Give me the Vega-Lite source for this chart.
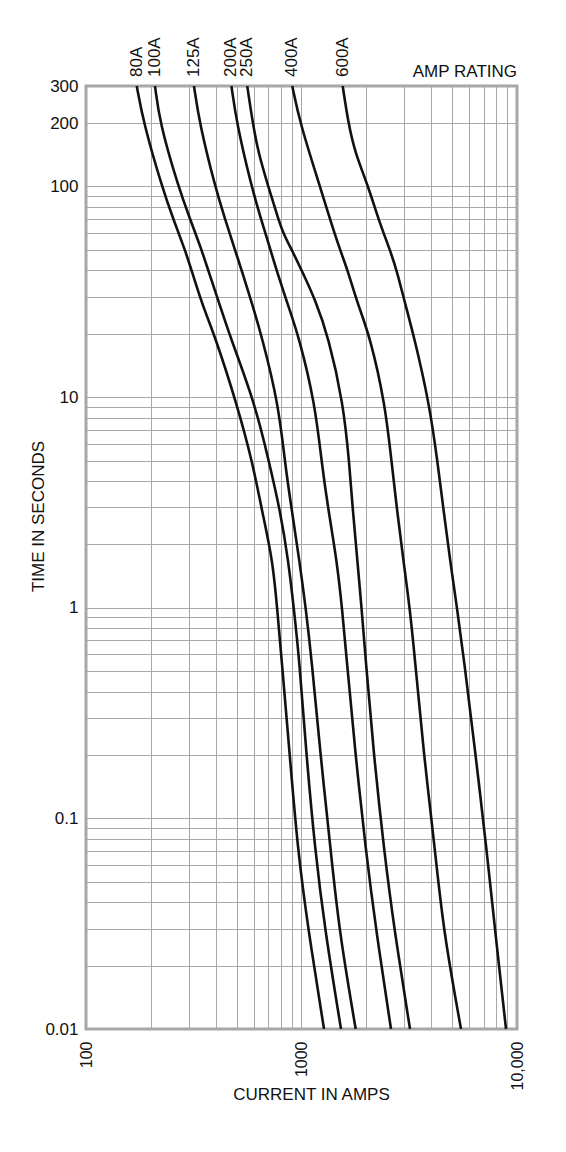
{
  "$schema": "https://vega.github.io/schema/vega-lite/v6.json",
  "width": 431,
  "height": 943,
  "autosize": {"type": "none"},
  "padding": {"left": 86, "top": 86, "right": 49, "bottom": 123},
  "background": "white",
  "config": {
    "font": "Liberation Sans",
    "view": {"stroke": "#a6a6a6", "strokeWidth": 3},
    "axis": {
      "grid": true,
      "gridColor": "#a8a8a8",
      "gridWidth": 1,
      "domain": false,
      "ticks": false,
      "tickSize": 0,
      "labelColor": "#111111",
      "titleColor": "#111111",
      "titleFontWeight": "normal",
      "labelOverlap": false,
      "labelFlush": false,
      "labelBound": false
    }
  },
  "datasets": {
    "curves": [
      {"rating": "80A", "current": 172, "time": 300},
      {"rating": "80A", "current": 185, "time": 200},
      {"rating": "80A", "current": 225, "time": 100},
      {"rating": "80A", "current": 254, "time": 70},
      {"rating": "80A", "current": 288, "time": 50},
      {"rating": "80A", "current": 309, "time": 40},
      {"rating": "80A", "current": 348, "time": 27.1},
      {"rating": "80A", "current": 397, "time": 19.4},
      {"rating": "80A", "current": 500, "time": 9.35},
      {"rating": "80A", "current": 594, "time": 4.86},
      {"rating": "80A", "current": 654, "time": 2.91},
      {"rating": "80A", "current": 735, "time": 1.69},
      {"rating": "80A", "current": 772, "time": 0.976},
      {"rating": "80A", "current": 809, "time": 0.565},
      {"rating": "80A", "current": 878, "time": 0.211},
      {"rating": "80A", "current": 960, "time": 0.0708},
      {"rating": "80A", "current": 1075, "time": 0.0295},
      {"rating": "80A", "current": 1272, "time": 0.01},

      {"rating": "100A", "current": 209, "time": 300},
      {"rating": "100A", "current": 220, "time": 200},
      {"rating": "100A", "current": 268, "time": 100},
      {"rating": "100A", "current": 304, "time": 70},
      {"rating": "100A", "current": 344, "time": 50},
      {"rating": "100A", "current": 369, "time": 40},
      {"rating": "100A", "current": 419, "time": 27.1},
      {"rating": "100A", "current": 466, "time": 19.4},
      {"rating": "100A", "current": 608, "time": 9.35},
      {"rating": "100A", "current": 709, "time": 4.86},
      {"rating": "100A", "current": 795, "time": 2.91},
      {"rating": "100A", "current": 868, "time": 1.69},
      {"rating": "100A", "current": 923, "time": 0.976},
      {"rating": "100A", "current": 977, "time": 0.565},
      {"rating": "100A", "current": 1049, "time": 0.211},
      {"rating": "100A", "current": 1155, "time": 0.0708},
      {"rating": "100A", "current": 1285, "time": 0.0295},
      {"rating": "100A", "current": 1525, "time": 0.01},

      {"rating": "125A", "current": 317, "time": 300},
      {"rating": "125A", "current": 336, "time": 200},
      {"rating": "125A", "current": 397, "time": 100},
      {"rating": "125A", "current": 442, "time": 70},
      {"rating": "125A", "current": 491, "time": 50},
      {"rating": "125A", "current": 528, "time": 40},
      {"rating": "125A", "current": 594, "time": 27.1},
      {"rating": "125A", "current": 654, "time": 19.4},
      {"rating": "125A", "current": 781, "time": 9.35},
      {"rating": "125A", "current": 838, "time": 4.86},
      {"rating": "125A", "current": 901, "time": 2.91},
      {"rating": "125A", "current": 977, "time": 1.69},
      {"rating": "125A", "current": 1049, "time": 0.976},
      {"rating": "125A", "current": 1115, "time": 0.565},
      {"rating": "125A", "current": 1218, "time": 0.211},
      {"rating": "125A", "current": 1366, "time": 0.0708},
      {"rating": "125A", "current": 1493, "time": 0.0295},
      {"rating": "125A", "current": 1784, "time": 0.01},

      {"rating": "200A", "current": 473, "time": 300},
      {"rating": "200A", "current": 500, "time": 200},
      {"rating": "200A", "current": 586, "time": 100},
      {"rating": "200A", "current": 649, "time": 70},
      {"rating": "200A", "current": 718, "time": 50},
      {"rating": "200A", "current": 766, "time": 40},
      {"rating": "200A", "current": 868, "time": 27.1},
      {"rating": "200A", "current": 972, "time": 19.4},
      {"rating": "200A", "current": 1155, "time": 9.35},
      {"rating": "200A", "current": 1241, "time": 4.86},
      {"rating": "200A", "current": 1332, "time": 2.91},
      {"rating": "200A", "current": 1457, "time": 1.69},
      {"rating": "200A", "current": 1546, "time": 0.976},
      {"rating": "200A", "current": 1621, "time": 0.565},
      {"rating": "200A", "current": 1771, "time": 0.211},
      {"rating": "200A", "current": 1986, "time": 0.0708},
      {"rating": "200A", "current": 2217, "time": 0.0295},
      {"rating": "200A", "current": 2602, "time": 0.01},

      {"rating": "250A", "current": 560, "time": 300},
      {"rating": "250A", "current": 594, "time": 200},
      {"rating": "250A", "current": 630, "time": 144.9},
      {"rating": "250A", "current": 701, "time": 100},
      {"rating": "250A", "current": 781, "time": 70},
      {"rating": "250A", "current": 823, "time": 60},
      {"rating": "250A", "current": 901, "time": 50},
      {"rating": "250A", "current": 1002, "time": 40},
      {"rating": "250A", "current": 1155, "time": 29.2},
      {"rating": "250A", "current": 1332, "time": 19.4},
      {"rating": "250A", "current": 1563, "time": 9.35},
      {"rating": "250A", "current": 1667, "time": 4.86},
      {"rating": "250A", "current": 1729, "time": 2.91},
      {"rating": "250A", "current": 1816, "time": 1.69},
      {"rating": "250A", "current": 1903, "time": 0.976},
      {"rating": "250A", "current": 1986, "time": 0.565},
      {"rating": "250A", "current": 2154, "time": 0.211},
      {"rating": "250A", "current": 2414, "time": 0.0708},
      {"rating": "250A", "current": 2696, "time": 0.0295},
      {"rating": "250A", "current": 3188, "time": 0.01},

      {"rating": "400A", "current": 906, "time": 300},
      {"rating": "400A", "current": 984, "time": 200},
      {"rating": "400A", "current": 1218, "time": 100},
      {"rating": "400A", "current": 1356, "time": 70},
      {"rating": "400A", "current": 1509, "time": 50},
      {"rating": "400A", "current": 1638, "time": 40},
      {"rating": "400A", "current": 1835, "time": 27.1},
      {"rating": "400A", "current": 2079, "time": 19.4},
      {"rating": "400A", "current": 2441, "time": 9.35},
      {"rating": "400A", "current": 2622, "time": 4.86},
      {"rating": "400A", "current": 2775, "time": 2.91},
      {"rating": "400A", "current": 2968, "time": 1.69},
      {"rating": "400A", "current": 3188, "time": 0.976},
      {"rating": "400A", "current": 3363, "time": 0.565},
      {"rating": "400A", "current": 3675, "time": 0.211},
      {"rating": "400A", "current": 4165, "time": 0.0708},
      {"rating": "400A", "current": 4550, "time": 0.0295},
      {"rating": "400A", "current": 5497, "time": 0.01},

      {"rating": "600A", "current": 1553, "time": 300},
      {"rating": "600A", "current": 1649, "time": 200},
      {"rating": "600A", "current": 1771, "time": 144.9},
      {"rating": "600A", "current": 2042, "time": 100},
      {"rating": "600A", "current": 2272, "time": 70},
      {"rating": "600A", "current": 2574, "time": 50},
      {"rating": "600A", "current": 2766, "time": 40},
      {"rating": "600A", "current": 3045, "time": 27.1},
      {"rating": "600A", "current": 3327, "time": 19.4},
      {"rating": "600A", "current": 3917, "time": 9.35},
      {"rating": "600A", "current": 4286, "time": 4.86},
      {"rating": "600A", "current": 4560, "time": 2.91},
      {"rating": "600A", "current": 4888, "time": 1.69},
      {"rating": "600A", "current": 5284, "time": 0.976},
      {"rating": "600A", "current": 5677, "time": 0.565},
      {"rating": "600A", "current": 6385, "time": 0.211},
      {"rating": "600A", "current": 7233, "time": 0.0708},
      {"rating": "600A", "current": 7907, "time": 0.0295},
      {"rating": "600A", "current": 8892, "time": 0.01}
    ],
    "notes": [
      {"label": "AMP RATING", "current": 10000, "time": 300}
    ]
  },
  "layer": [
    {
      "data": {"name": "curves"},
      "mark": {"type": "line", "interpolate": "basis", "color": "#111111", "strokeWidth": 2.6, "clip": true},
      "encoding": {
        "x": {
          "field": "current",
          "type": "quantitative",
          "scale": {"type": "log", "domain": [100, 10000], "nice": false},
          "axis": {
            "values": [100, 200, 300, 400, 500, 600, 700, 800, 900, 1000, 2000, 3000, 4000, 5000, 6000, 7000, 8000, 9000, 10000],
            "format": "d",
            "labelExpr": "datum.value == 10000 ? '10,000' : (datum.value == 100 || datum.value == 1000) ? datum.label : ''",
            "labelAngle": -90,
            "labelAlign": "right",
            "labelBaseline": "middle",
            "labelPadding": 12,
            "labelFontSize": 16,
            "title": "CURRENT IN AMPS",
            "titleFontSize": 17,
            "titleX": 225,
            "titleY": 70,
            "titleAlign": "center",
            "titleBaseline": "alphabetic"
          }
        },
        "y": {
          "field": "time",
          "type": "quantitative",
          "scale": {"type": "log", "domain": [0.01, 300], "nice": false},
          "axis": {
            "values": [0.01, 0.02, 0.03, 0.04, 0.05, 0.06, 0.07, 0.08, 0.09, 0.1, 0.2, 0.3, 0.4, 0.5, 0.6, 0.7, 0.8, 0.9, 1, 2, 3, 4, 5, 6, 7, 8, 9, 10, 20, 30, 40, 50, 60, 70, 80, 90, 100, 200, 300],
            "format": "~g",
            "labelExpr": "indexof([0.01, 0.1, 1, 10, 100, 200, 300], datum.value) >= 0 ? datum.label : ''",
            "labelPadding": 8,
            "labelFontSize": 17,
            "title": "TIME IN SECONDS",
            "titleFontSize": 17,
            "titleAngle": 270,
            "titleX": -43,
            "titleY": 430,
            "titleAlign": "center",
            "titleBaseline": "alphabetic"
          }
        },
        "detail": {"field": "rating", "type": "nominal"}
      }
    },
    {
      "data": {"name": "curves"},
      "transform": [{"filter": "datum.time == 300"}],
      "mark": {"type": "text", "angle": 270, "align": "left", "baseline": "middle", "dx": 9, "fontSize": 17, "color": "#111111"},
      "encoding": {
        "x": {"field": "current", "type": "quantitative"},
        "y": {"field": "time", "type": "quantitative"},
        "text": {"field": "rating", "type": "nominal"}
      }
    },
    {
      "data": {"name": "notes"},
      "mark": {"type": "text", "align": "right", "baseline": "alphabetic", "dy": -9, "fontSize": 17, "color": "#111111"},
      "encoding": {
        "x": {"field": "current", "type": "quantitative"},
        "y": {"field": "time", "type": "quantitative"},
        "text": {"field": "label", "type": "nominal"}
      }
    }
  ]
}
